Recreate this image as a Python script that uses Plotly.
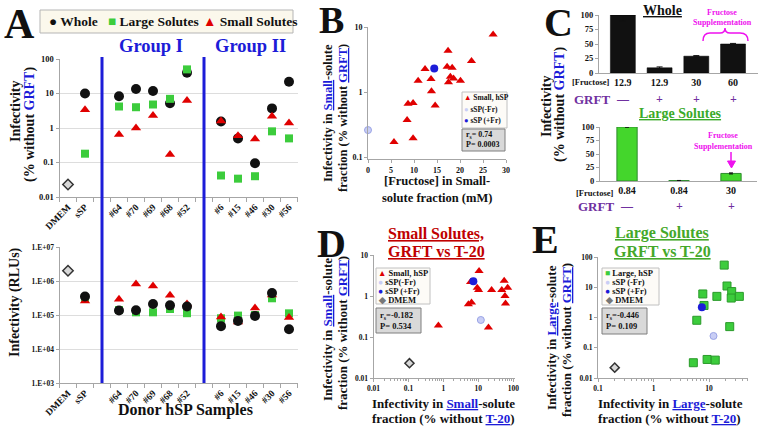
import plotly.graph_objects as go

W, H = 760, 428
SERIF = "Liberation Serif"
BLACK = "#111111"
GREEN = "#3ccc3c"
RED = "#e00000"
BLUE = "#1c1cd8"
LBLUE = "#c9cef5"
PURPLE = "#7030a0"
MAGENTA = "#ee11ee"
AXC = "#a6a6a6"

# ---------------- data ----------------
# Panel A
ctrl_labels = ["DMEM", "sSP"]
group1_labels = ["#64", "#70", "#69", "#68", "#52"]
group2_labels = ["#6", "#15", "#46", "#30", "#56"]
sample_labels = ["sSP"] + group1_labels + group2_labels

whole_pct = [10, 8.3, 13.5, 11.8, 5.2, 40, 1.55, 0.5, 0.095, 3.7, 22]
large_pct = [0.18, 4.2, 4.0, 4.8, 7.0, 50, 0.042, 0.034, 0.04, 0.8, 0.5]
small_pct = [3.4, 0.65, 1.0, 2.3, 0.17, 6.3, 1.6, 0.6, 0.48, 2.2, 1.4]
dmem_pct = 0.023

whole_rlu = [3.5e5, 1.36e5, 1.38e5, 2.1e5, 1.92e5, 1.78e5, 4.7e4, 6.7e4, 9.4e4, 4.4e5, 3.8e4]
large_rlu = [3.0e5, 1.4e5, 1.2e5, 1.2e5, 1.5e5, 1.13e5, 8.0e4, 9.6e4, 1.0e5, 3.1e5, 1.12e5]
small_rlu = [2.6e5, 2.9e5, 8.1e5, 7.1e5, 3.8e5, 2.1e5, 8.7e4, 6.2e4, 1.6e5, 3.9e5, 8.5e4]
dmem_rlu = 2.0e6

pct_ticks = [0.01, 0.1, 1, 10, 100]
pct_ticktext = ["0.01", "0.1", "1", "10", "100"]
rlu_ticks = [1e3, 1e4, 1e5, 1e6, 1e7]
rlu_ticktext = ["1.E+03", "1.E+04", "1.E+05", "1.E+06", "1.E+07"]

# Panel B
b_fructose = [27.2, 17.4, 22.5, 12.4, 17.2, 18.3, 10.9, 13.7, 17.9, 18.6, 17.5, 20.1,
              13.8, 8.7, 9.8, 14.6, 8.5, 9.8, 5.65]
b_small_inf = [7.7, 4.3, 3.0, 2.26, 2.45, 2.37, 1.49, 1.58, 1.72, 1.62, 1.41, 1.49,
               1.03, 0.66, 0.68, 0.62, 0.37, 0.195, 0.17]
b_ssp_minus = (0, 0.26)
b_ssp_plus = (14.4, 2.3)
b_stats = ("0.74", "0.0003")

# Panel C
c_whole_fructose = ["12.9", "12.9", "30", "60"]
c_whole_grft = ["—", "+", "+", "+"]
c_whole_vals = [100, 9, 29, 50]
c_whole_err = [10, 1.5, 1, 1]
c_large_fructose = ["0.84", "0.84", "30"]
c_large_grft = ["—", "+", "+"]
c_large_vals = [100, 0.8, 14]
c_large_err = [0.5, 0.2, 1]

# Panel D
d_t20 = [10.5, 6.0, 9.3, 10.2, 24, 55, 69, 47, 58, 60, 5.2, 6.4, 0.72, 19.5]
d_grft = [4.1, 2.2, 1.6, 1.4, 1.4, 2.35, 1.6, 1.4, 1.0, 0.66, 0.63, 0.69, 0.19, 0.17]
d_ssp_plus = (7.2, 2.3)
d_ssp_minus = (11.8, 0.26)
d_dmem = (0.107, 0.023)
d_stats = ("-0.182", "0.534")

# Panel E
e_t20 = [18.7, 21, 25.5, 7.7, 13.8, 25, 35, 8.1, 6.0, 23.5, 5.2, 9.2, 12.9]
e_grft = [54, 11, 7.2, 6.0, 5.0, 4.4, 5.0, 2.5, 0.81, 0.5, 0.032, 0.041, 0.039]
e_ssp_plus = (7.4, 2.2)
e_ssp_minus = (12, 0.245)
e_dmem = (0.2, 0.022)
e_stats = ("-0.446", "0.109")

# ---------------- helpers ----------------
cat_order = ctrl_labels + [""] + group1_labels + [""] + group2_labels
pos = {lab: i for i, lab in enumerate(cat_order) if lab}
gap_pos = [i for i, lab in enumerate(cat_order) if not lab]
xs = [pos[l] for l in sample_labels]
all_pos = [pos[l] for l in ctrl_labels + group1_labels + group2_labels]
all_lab = ctrl_labels + group1_labels + group2_labels


def px(x):
    return x / W


def py(y):
    return 1 - y / H


def F(size, color=BLACK):
    return dict(family=SERIF, size=size, color=color, weight="bold")


ann = []
shapes = []


def text(t, x, y, size, color=BLACK, xanchor="center", yanchor="middle", angle=0):
    ann.append(dict(text=t, x=px(x), y=py(y), xref="paper", yref="paper", showarrow=False,
                    font=F(size, color), xanchor=xanchor, yanchor=yanchor, textangle=angle,
                    borderpad=0))


def rect(x0, y0, x1, y1, fill, line, lw=1):
    shapes.append(dict(type="rect", xref="paper", yref="paper", x0=px(x0), x1=px(x1),
                       y0=py(y1), y1=py(y0), fillcolor=fill, line=dict(color=line, width=lw),
                       layer="above"))


def axis(**kw):
    d = dict(showline=True, linecolor=AXC, linewidth=1, ticks="outside", tickcolor=AXC,
             ticklen=3, showgrid=False, zeroline=False, tickfont=F(8), fixedrange=True,
             automargin=False)
    d.update(kw)
    return d


def sc(x, y, xa, ya, symbol, size, color, line_color=None, lw=0):
    return go.Scatter(x=list(x), y=list(y), xaxis=xa, yaxis=ya, mode="markers",
                      marker=dict(symbol=symbol, size=size, color=color,
                                  line=dict(color=line_color or color, width=lw)),
                      hoverinfo="skip", showlegend=False, cliponaxis=False)


fig = go.Figure()

# ---------- Panel A top ----------
fig.add_trace(sc([pos["DMEM"]], [dmem_pct], "x", "y", "diamond", 8, "#d8d8d8", "#333", 1.5))
fig.add_trace(sc(xs, whole_pct, "x", "y", "circle", 10, BLACK))
fig.add_trace(sc(xs, large_pct, "x", "y", "square", 8, GREEN))
fig.add_trace(sc(xs, small_pct, "x", "y", "triangle-up", 9, RED))
# ---------- Panel A bottom ----------
fig.add_trace(sc([pos["DMEM"]], [dmem_rlu], "x2", "y2", "diamond", 8, "#d8d8d8", "#333", 1.5))
fig.add_trace(sc(xs, large_rlu, "x2", "y2", "square", 8, GREEN))
fig.add_trace(sc(xs, small_rlu, "x2", "y2", "triangle-up", 9, RED))
fig.add_trace(sc(xs, whole_rlu, "x2", "y2", "circle", 10, BLACK))

# ---------- Panel B ----------
fig.add_trace(sc(b_fructose, b_small_inf, "x3", "y3", "triangle-up", 8, RED))
fig.add_trace(sc([b_ssp_minus[0]], [b_ssp_minus[1]], "x3", "y3", "circle", 7, LBLUE, "#9aa4e6", 1))
fig.add_trace(sc([b_ssp_plus[0]], [b_ssp_plus[1]], "x3", "y3", "circle", 8, BLUE))

# ---------- Panel C ----------
fig.add_trace(go.Bar(x=list(range(len(c_whole_vals))), y=c_whole_vals, xaxis="x4", yaxis="y4",
                     width=0.68, marker=dict(color=BLACK, line=dict(color="#000", width=0.5)),
                     error_y=dict(type="data", array=c_whole_err, color=BLACK, thickness=1, width=3),
                     hoverinfo="skip", showlegend=False, cliponaxis=False))
fig.add_trace(go.Bar(x=list(range(len(c_large_vals))), y=c_large_vals, xaxis="x5", yaxis="y5",
                     width=0.39, marker=dict(color="#44d62c", line=dict(color="#2e8b2e", width=1)),
                     error_y=dict(type="data", array=c_large_err, color=BLACK, thickness=1, width=2),
                     hoverinfo="skip", showlegend=False, cliponaxis=False))

# ---------- Panel D ----------
fig.add_trace(sc([d_dmem[0]], [d_dmem[1]], "x6", "y6", "diamond", 7, "#d8d8d8", "#333", 1.5))
fig.add_trace(sc(d_t20, d_grft, "x6", "y6", "triangle-up", 8, RED))
fig.add_trace(sc([d_ssp_minus[0]], [d_ssp_minus[1]], "x6", "y6", "circle", 7, LBLUE, "#9aa4e6", 1))
fig.add_trace(sc([d_ssp_plus[0]], [d_ssp_plus[1]], "x6", "y6", "circle", 8, BLUE))

# ---------- Panel E ----------
fig.add_trace(sc([e_dmem[0]], [e_dmem[1]], "x7", "y7", "diamond", 7, "#d8d8d8", "#333", 1.5))
fig.add_trace(sc(e_t20, e_grft, "x7", "y7", "square", 8, GREEN, "#2a9a2a", 1))
fig.add_trace(sc([e_ssp_minus[0]], [e_ssp_minus[1]], "x7", "y7", "circle", 7, LBLUE, "#9aa4e6", 1))
fig.add_trace(sc([e_ssp_plus[0]], [e_ssp_plus[1]], "x7", "y7", "circle", 8, BLUE))

# ---------- axes ----------
a_xdom = [px(59.5), px(297.5)]
a_x_common = dict(domain=a_xdom, range=[-0.5, len(cat_order) - 0.5], tickmode="array",
                  tickvals=all_pos, ticktext=all_lab, tickangle=-45, ticks="",
                  tickfont=F(9.5),
                  minor=dict(tickmode="array", tickvals=[i - 0.5 for i in range(len(cat_order) + 1)],
                             ticks="outside", ticklen=4, tickcolor=AXC))
log_minor = lambda lo, hi: [m * 10 ** e for e in range(lo, hi) for m in range(2, 10)]

layout_axes = dict(
    xaxis=axis(anchor="y", **a_x_common),
    yaxis=axis(anchor="x", type="log", range=[-2, 2], domain=[py(197), py(59)],
               tickvals=pct_ticks, ticktext=pct_ticktext, showgrid=True, gridcolor="#dddddd",
               tickfont=F(8.5)),
    xaxis2=axis(anchor="y2", **a_x_common),
    yaxis2=axis(anchor="x2", type="log", range=[3, 7], domain=[py(383), py(247)],
                tickvals=rlu_ticks, ticktext=rlu_ticktext, showgrid=True, gridcolor="#dddddd",
                tickfont=F(7.5)),
    xaxis3=axis(anchor="y3", domain=[px(368), px(506)], range=[0, 30], tickvals=[0, 5, 10, 15, 20, 25, 30]),
    yaxis3=axis(anchor="x3", type="log", range=[-1.03, 1], domain=[py(159), py(27)],
                tickvals=[0.1, 1, 10], ticktext=["0.1", "1", "10"]),
    xaxis4=axis(anchor="y4", domain=[px(599), px(758)], range=[-0.65, 3.68], ticks="",
                tickvals=list(range(len(c_whole_fructose))), ticktext=c_whole_fructose,
                tickfont=F(10)),
    yaxis4=axis(anchor="x4", range=[0, 100], domain=[py(73), py(15)],
                tickvals=[0, 25, 50, 75, 100], tickfont=F(8.5)),
    xaxis5=axis(anchor="y5", domain=[px(600), px(757)], range=[-0.52, 2.5], ticks="",
                tickvals=list(range(len(c_large_fructose))), ticktext=c_large_fructose,
                tickfont=F(10)),
    yaxis5=axis(anchor="x5", range=[0, 100], domain=[py(181), py(127)],
                tickvals=[0, 25, 50, 75, 100], tickfont=F(8.5)),
    xaxis6=axis(anchor="y6", type="log", range=[-2, 2.05], domain=[px(373.5), px(515)],
                tickvals=[0.01, 0.1, 1, 10, 100], ticktext=["0.01", "0.1", "1", "10", "100"],
                tickfont=F(7.5),
                minor=dict(tickmode="array", tickvals=log_minor(-2, 2), ticks="outside",
                           ticklen=2, tickcolor=AXC)),
    yaxis6=axis(anchor="x6", type="log", range=[-2, 1], domain=[py(378), py(255)],
                tickvals=[0.01, 0.1, 1, 10], ticktext=["0.01", "0.1", "1", "10"], tickfont=F(7.5)),
    xaxis7=axis(anchor="y7", type="log", range=[-1, 1.7], domain=[px(598), px(748)],
                tickvals=[0.1, 1, 10], ticktext=["0.1", "1", "10"], tickfont=F(7.5),
                minor=dict(tickmode="array", tickvals=log_minor(-1, 2), ticks="outside",
                           ticklen=2, tickcolor=AXC)),
    yaxis7=axis(anchor="x7", type="log", range=[-2, 2], domain=[py(378), py(257)],
                tickvals=[0.01, 0.1, 1, 10, 100], ticktext=["0.01", "0.1", "1", "10", "100"],
                tickfont=F(7.5)),
)

# group separator lines (span both A panels)
for g in gap_pos:
    shapes.append(dict(type="line", xref="x", yref="paper", x0=g, x1=g, y0=py(383), y1=py(57),
                       line=dict(color=BLUE, width=3), layer="above"))

# ---------- annotations ----------
# panel letters
text("A", 19, 24, 42)
text("B", 331, 20, 38)
text("C", 558, 23, 40)
text("D", 331, 243, 40)
text("E", 545, 240, 40)

# Panel A legend
rect(40, 10, 293, 33, "#fbf8ec", "#b5b5b5", 1)
text(f"<span style='color:{BLACK}'>●</span> Whole", 48, 21.5, 13.5, xanchor="left")
text(f"<span style='color:{GREEN}'>■</span> Large Solutes", 107, 21.5, 13.5, xanchor="left")
text(f"<span style='color:{RED}'>▲</span> Small Solutes", 202, 21.5, 13.5, xanchor="left")
text("Group I", 151, 46, 18.5, BLUE)
text("Group II", 250, 46, 18.5, BLUE)
text("Infectivity", 15, 112, 14, angle=-90)
text(f"(% without <span style='color:{BLUE}'>GRFT</span>)", 30, 125, 14, angle=-90)
text("Infectivity (RLUs)", 15, 302, 14, angle=-90)
text("Donor hSP Samples", 185, 410, 16)

# Panel B
text(f"Infectivity in <span style='color:{BLUE}'><u>Small</u></span>-solute", 328, 113, 12.5, angle=-90)
text(f"fraction (% without <span style='color:{BLUE}'><u>GRFT</u></span>)", 343, 118, 12.5, angle=-90)
text("[Fructose] in Small-", 437, 181, 12.5)
text("solute fraction (mM)", 437, 198, 12.5)
rect(462, 92, 507, 128, "#fdfbf7", "#c0c0c0", 1)
text(f"<span style='color:{RED}'>▲</span> Small, hSP", 463, 97.5, 7.5, xanchor="left")
text(f"<span style='color:{LBLUE}'>●</span> sSP(-Fr)", 463, 109, 7.5, xanchor="left")
text(f"<span style='color:{BLUE}'>●</span> sSP (+Fr)", 463, 120.5, 7.5, xanchor="left")
rect(462, 129, 505, 151, "#d9d9d9", "#7f7f7f", 1)
text(f"r<sub>s</sub>= {b_stats[0]}", 465, 135, 8, xanchor="left")
text(f"P= {b_stats[1]}", 465, 145, 8, xanchor="left")

# Panel C
text("<u>Whole</u>", 662, 11, 14)
text("Fructose", 722, 12, 8, MAGENTA)
text("Supplementation", 722, 23, 8, MAGENTA)
shapes.append(dict(type="path", xref="paper", yref="paper",
                   path=f"M {px(703)},{py(41)} Q {px(703)},{py(33)} {px(710)},{py(33)} "
                        f"L {px(720)},{py(33)} Q {px(725)},{py(33)} {px(725)},{py(28)} "
                        f"Q {px(725)},{py(33)} {px(730)},{py(33)} L {px(740)},{py(33)} "
                        f"Q {px(748)},{py(33)} {px(748)},{py(41)}",
                   line=dict(color=MAGENTA, width=1.5)))
text("[Fructose]", 571, 81.5, 8.5, xanchor="left")
text("GRFT", 573, 99, 13, PURPLE, xanchor="left")
for i, s in enumerate(c_whole_grft):
    ann.append(dict(text=s, x=i, y=py(99), xref="x4", yref="paper", showarrow=False,
                    font=F(12, PURPLE), xanchor="center", yanchor="middle"))
text(f"<span style='color:#3aaa2a'><u>Large Solutes</u></span>", 680, 114, 14)
text("Fructose", 723, 135, 8, MAGENTA)
text("Supplementation", 723, 146, 8, MAGENTA)
# arrow (line + head) pointing at the supplemented bar
shapes.append(dict(type="line", xref="x5", yref="paper", x0=2, x1=2, y0=py(152), y1=py(162),
                   line=dict(color=MAGENTA, width=1.5)))
shapes.append(dict(type="path", xref="paper", yref="paper",
                   path=f"M {px(727.5)},{py(161)} L {px(735.5)},{py(161)} L {px(731.5)},{py(168)} Z",
                   fillcolor=MAGENTA, line=dict(color=MAGENTA, width=1)))
text("[Fructose]", 575, 192.5, 8.5, xanchor="left")
text("GRFT", 577, 206, 13, PURPLE, xanchor="left")
for i, s in enumerate(c_large_grft):
    ann.append(dict(text=s, x=i, y=py(206), xref="x5", yref="paper", showarrow=False,
                    font=F(12, PURPLE), xanchor="center", yanchor="middle"))
text("Infectivity", 546, 107, 14, angle=-90)
text(f"(% without <span style='color:{BLUE}'>GRFT</span>)", 560, 105, 14, angle=-90)

# Panel D
text("<u>Small Solutes,</u>", 436, 233, 16, "#c00000")
text("<u>GRFT vs T-20</u>", 437, 251, 16, "#c00000")
text(f"Infectivity in <span style='color:{BLUE}'><u>Small</u></span>-solute", 327, 330, 13, angle=-90)
text(f"fraction (% without <span style='color:{BLUE}'><u>GRFT</u></span>)", 342, 333, 13, angle=-90)
text(f"Infectivity in <span style='color:{BLUE}'><u>Small</u></span>-solute", 443, 403, 13)
text(f"fraction (% without <span style='color:{BLUE}'><u>T-20</u></span>)", 443, 418, 13)
rect(376, 268, 430, 304, "#fdfbf7", "#c0c0c0", 1)
text(f"<span style='color:{RED}'>▲</span> Small, hSP", 377, 272.5, 8.5, xanchor="left")
text(f"<span style='color:{LBLUE}'>●</span> sSP(-Fr)", 377, 281.5, 8.5, xanchor="left")
text(f"<span style='color:{BLUE}'>●</span> sSP (+Fr)", 377, 290.5, 8.5, xanchor="left")
text("<span style='color:#777'>◆</span> DMEM", 377, 299.5, 8.5, xanchor="left")
rect(376, 308, 421, 333, "#d9d9d9", "#7f7f7f", 1)
text(f"r<sub>s</sub>={d_stats[0]}", 379, 315, 8.5, xanchor="left")
text(f"P= {d_stats[1]}", 379, 326, 8.5, xanchor="left")

# Panel E
text("<u>Large Solutes</u>", 662, 233, 16, "#44a82a")
text("<u>GRFT vs T-20</u>", 662, 251, 16, "#44a82a")
text(f"Infectivity in <span style='color:{BLUE}'><u>Large</u></span>-solute", 551, 338, 13, angle=-90)
text(f"fraction (% without <span style='color:{BLUE}'><u>GRFT</u></span>)", 566, 340, 13, angle=-90)
text(f"Infectivity in <span style='color:{BLUE}'><u>Large</u></span>-solute", 670, 403, 13)
text(f"fraction (% without <span style='color:{BLUE}'><u>T-20</u></span>)", 669, 418, 13)
rect(602, 268, 659, 305, "#fdfbf7", "#c0c0c0", 1)
text(f"<span style='color:{GREEN}'>■</span> Large, hSP", 604, 272.5, 8.5, xanchor="left")
text(f"<span style='color:{LBLUE}'>●</span> sSP (-Fr)", 604, 281.7, 8.5, xanchor="left")
text(f"<span style='color:{BLUE}'>●</span> sSP (+Fr)", 604, 291, 8.5, xanchor="left")
text("<span style='color:#777'>◆</span> DMEM", 604, 300, 8.5, xanchor="left")
rect(602, 308, 647, 334, "#d9d9d9", "#7f7f7f", 1)
text(f"r<sub>s</sub>={e_stats[0]}", 605, 315, 8.5, xanchor="left")
text(f"P= {e_stats[1]}", 605, 326, 8.5, xanchor="left")

fig.update_layout(
    width=W, height=H, margin=dict(l=0, r=0, t=0, b=0, autoexpand=False),
    paper_bgcolor="white", plot_bgcolor="white",
    font=dict(family=SERIF, color=BLACK),
    showlegend=False, barmode="group",
    annotations=ann, shapes=shapes,
    **layout_axes,
)

fig.write_html("out.html", config={"displayModeBar": False},
               post_script="document.body.style.margin='0px';document.body.style.overflow='hidden';")
